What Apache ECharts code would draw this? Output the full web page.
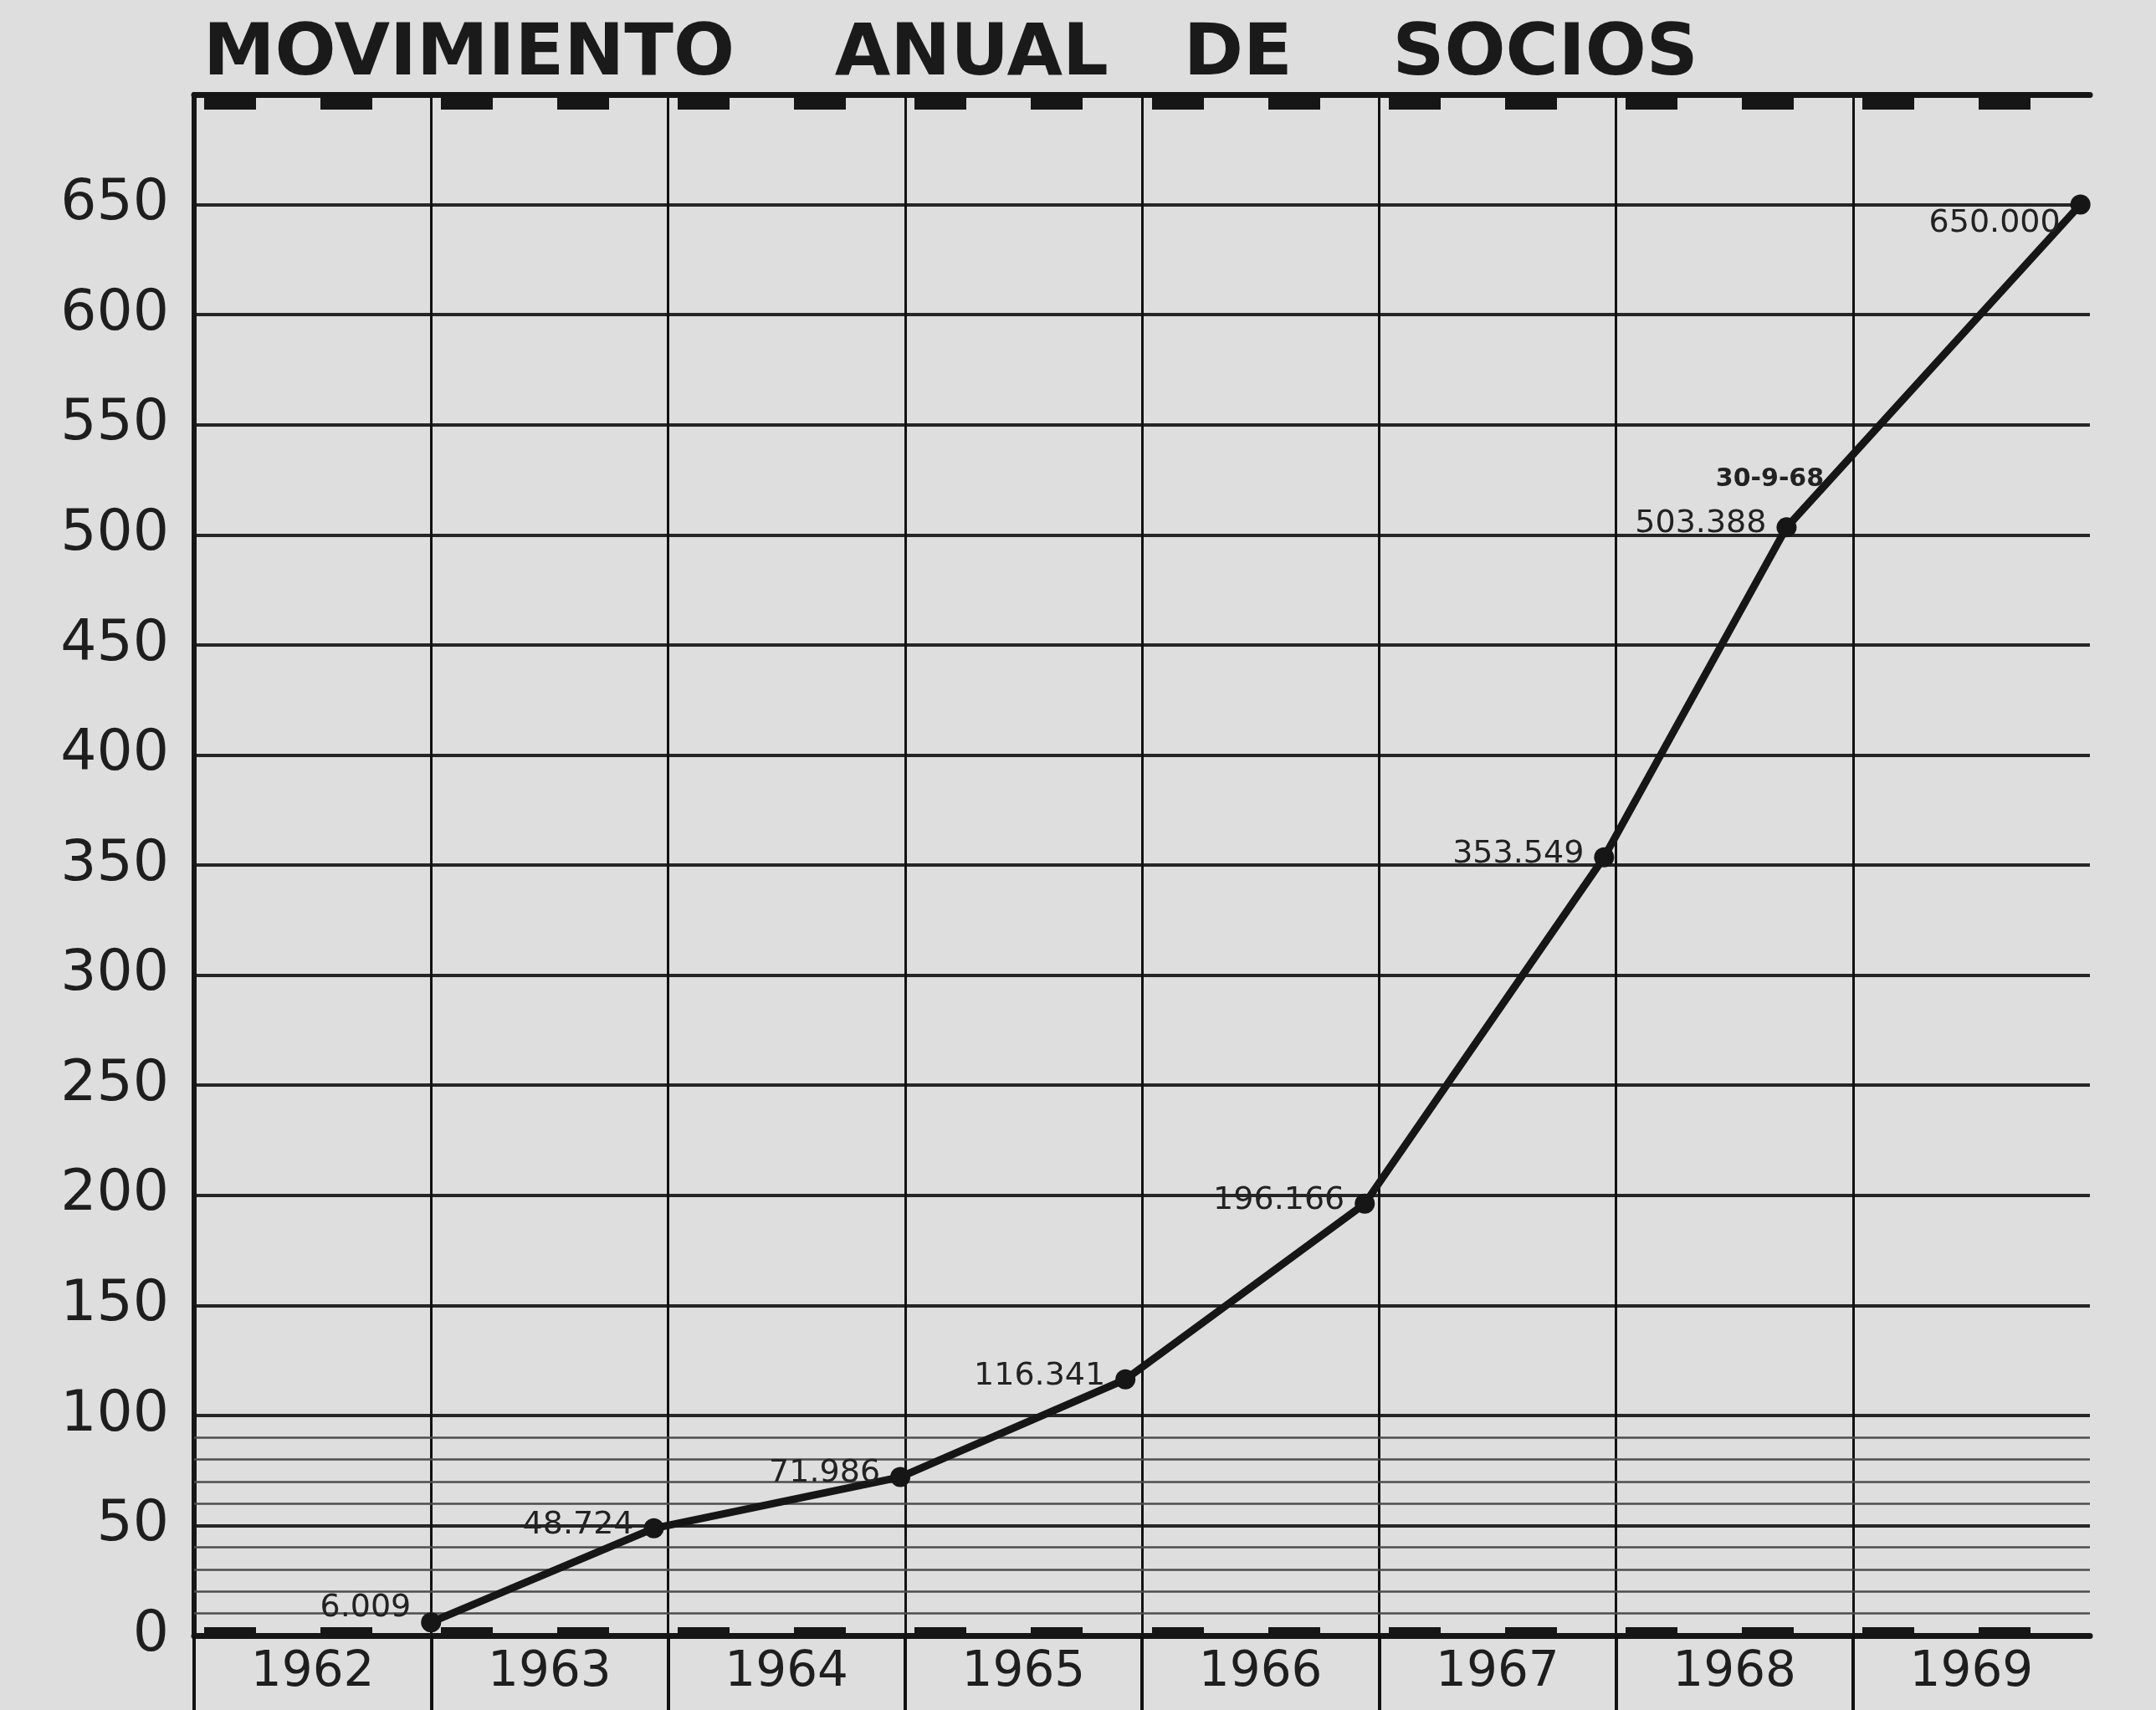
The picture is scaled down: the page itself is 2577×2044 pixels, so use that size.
<!DOCTYPE html>
<html>
<head>
<meta charset="utf-8">
<title>Movimiento anual de socios</title>
<script src="https://cdn.jsdelivr.net/npm/echarts@6/dist/echarts.min.js"></script>
<style>
  html, body { margin: 0; padding: 0; background: #dedede; }
  #chart { width: 2577px; height: 2044px; }
</style>
</head>
<body>
<div id="chart"></div>
<script>
// years shown under the columns
var years = ['1962', '1963', '1964', '1965', '1966', '1967', '1968', '1969'];
// where each point sits on the time line (end of year, 30-9-68 for the 1968 one)
var pointPos = [1963.0, 1963.94, 1964.98, 1965.93, 1966.94, 1967.95, 1968.72, 1969.96];
// socios, in thousands
var socios = [6.009, 48.724, 71.986, 116.341, 196.166, 353.549, 503.388, 650.000];
var notes = ['', '', '', '', '', '', '30-9-68', ''];
// fine lines between 0 and 100
var minorLevels = [10, 20, 30, 40, 60, 70, 80, 90];

var ink = '#161616';
var font = 'DejaVu Sans';

// short thick marks along top and bottom borders, two per column
var dashTicks = [];
years.forEach(function (y) {
    dashTicks.push(Number(y) + 0.15);
    dashTicks.push(Number(y) + 0.64);
});

var pts = socios.map(function (v, i) {
    var item = { value: [pointPos[i], v], label: { offset: [0, -4] } };
    if (i === 0) item.label.offset = [0, -17];
    if (i === socios.length - 1) item.label.offset = [0, 23];
    return item;
});

var notePts = [];
notes.forEach(function (n, i) {
    if (n) notePts.push({ coord: [pointPos[i], socios[i]], value: n });
});

function plainAxis(pos) {
    return {
        type: 'value', position: pos, min: 1962, max: 1970,
        axisLine: { show: false }, axisTick: { show: false },
        axisLabel: { show: false }, splitLine: { show: false }
    };
}

var dom = document.getElementById('chart');
var myChart = echarts.init(dom);

var bottomDashes = plainAxis('bottom');
bottomDashes.axisTick = { show: true, inside: true, length: 10, customValues: dashTicks,
                          lineStyle: { color: ink, width: 62 } };

var extension = plainAxis('bottom');
extension.axisTick = { show: true, inside: false, length: 89, customValues: years.map(Number),
                       lineStyle: { color: '#111', width: 4 } };

var topBorder = plainAxis('top');
topBorder.axisLine = { show: true, onZero: false, lineStyle: { color: ink, width: 7 } };
topBorder.axisTick = { show: true, inside: true, length: 18, customValues: dashTicks,
                       lineStyle: { color: ink, width: 62 } };

var option = {
    backgroundColor: '#dedede',
    animation: false,
    title: {
        text: 'MOVIMIENTO    ANUAL   DE    SOCIOS',
        left: 238,
        top: 19,
        textStyle: { fontFamily: font, fontWeight: 'bold', fontSize: 86, color: '#1a1a1a' }
    },
    grid: { left: 232, right: 79, top: 113, bottom: 89, containLabel: false, outerBoundsMode: 'none' },
    xAxis: [
        {   // data axis: bottom line and column lines
            type: 'value', position: 'bottom', min: 1962, max: 1970, interval: 1,
            axisLine: { show: true, onZero: false, lineStyle: { color: ink, width: 7 } },
            axisTick: { show: false },
            axisLabel: { show: false },
            splitLine: { show: true, showMinLine: false, showMaxLine: false,
                         lineStyle: { color: '#111', width: 3 } }
        },
        {   // year labels centred in the columns
            type: 'category', position: 'bottom', data: years, boundaryGap: true,
            axisLine: { show: false }, axisTick: { show: false }, splitLine: { show: false },
            axisLabel: { fontFamily: font, fontSize: 58, color: '#1e1e1e', margin: 16 }
        },
        extension,
        bottomDashes,
        topBorder
    ],
    yAxis: {
        type: 'value', min: 0, max: 700, interval: 50,
        axisLine: { show: true, onZero: false, lineStyle: { color: ink, width: 6 } },
        axisTick: { show: false },
        axisLabel: { fontFamily: font, fontSize: 68, color: '#1e1e1e', margin: 30, showMaxLabel: false },
        splitLine: { show: true, showMinLine: false, showMaxLine: false,
                     lineStyle: { color: '#262626', width: 4 } }
    },
    series: [{
        name: 'Socios',
        type: 'line',
        xAxisIndex: 0,
        yAxisIndex: 0,
        data: pts,
        z: 3,
        symbol: 'circle',
        symbolSize: 24,
        lineStyle: { color: ink, width: 9 },
        itemStyle: { color: ink },
        label: {
            show: true, position: 'left', distance: 12,
            fontFamily: font, fontSize: 38, color: '#222',
            formatter: function (p) { return p.value[1].toFixed(3); }
        },
        markLine: {
            silent: true, z: 1, symbol: ['none', 'none'],
            label: { show: false },
            lineStyle: { type: 'solid', color: '#4d4d4d', width: 2.5 },
            data: minorLevels.map(function (v) { return { yAxis: v }; })
        },
        markPoint: {
            silent: true, symbol: 'circle', symbolSize: 0,
            label: { show: true, position: 'inside', offset: [-20, -57],
                     fontFamily: font, fontSize: 30, fontWeight: 'bold', color: '#222',
                     formatter: function (p) { return p.value; } },
            data: notePts
        }
    }]
};
myChart.setOption(option);
</script>
</body>
</html>
